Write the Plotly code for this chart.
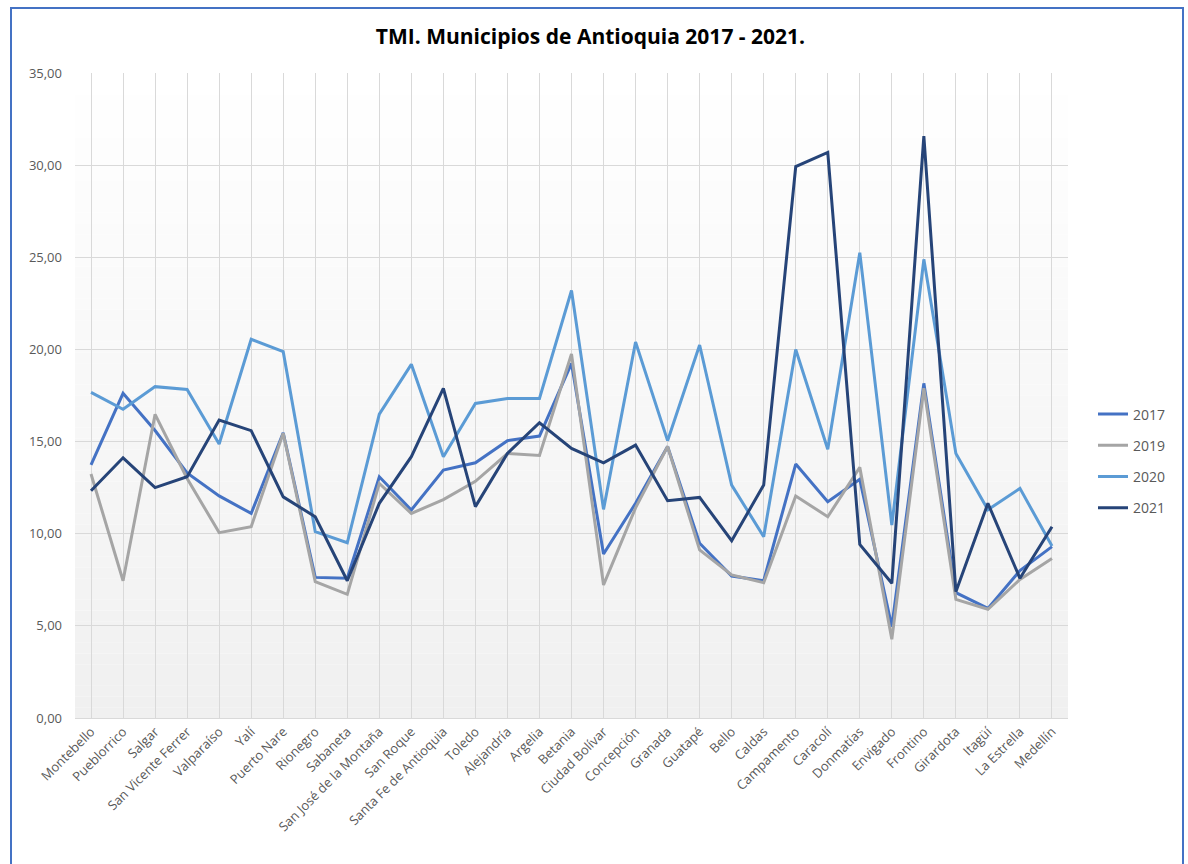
import plotly.graph_objects as go

categories = ["Montebello", "Pueblorrico", "Salgar", "San Vicente Ferrer", "Valparaíso", "Yalí",
              "Puerto Nare", "Rionegro", "Sabaneta", "San José de la Montaña", "San Roque",
              "Santa Fe de Antioquia", "Toledo", "Alejandría", "Argelia", "Betania",
              "Ciudad Bolívar", "Concepción", "Granada", "Guatapé", "Bello", "Caldas",
              "Campamento", "Caracolí", "Donmatías", "Envigado", "Frontino", "Girardota",
              "Itagüí", "La Estrella", "Medellín"]

v2017 = [13.73, 17.62, 15.6, 13.3, 12.05, 11.1, 15.48, 7.63, 7.58, 13.09, 11.29, 13.45, 13.85,
         15.05, 15.3, 19.24, 8.9, 11.65, 14.73, 9.48, 7.7, 7.45, 13.78, 11.74, 12.95, 4.96,
         18.16, 6.8, 5.95, 8.0, 9.3]
v2019 = [13.24, 7.45, 16.48, 13.0, 10.06, 10.38, 15.45, 7.4, 6.71, 12.73, 11.1, 11.85, 12.84,
         14.35, 14.25, 19.75, 7.22, 11.4, 14.73, 9.12, 7.76, 7.34, 12.05, 10.92, 13.6, 4.27,
         17.9, 6.44, 5.9, 7.52, 8.66]
v2020 = [17.67, 16.75, 17.98, 17.83, 14.87, 20.55, 19.88, 10.11, 9.51, 16.49, 19.19, 14.18,
         17.07, 17.34, 17.34, 23.2, 11.32, 20.4, 15.05, 20.24, 12.64, 9.84, 20.0, 14.58, 25.25,
         10.47, 24.89, 14.36, 11.3, 12.46, 9.33]
v2021 = [12.33, 14.12, 12.5, 13.09, 16.17, 15.59, 12.0, 10.92, 7.45, 11.65, 14.18, 17.89,
         11.47, 14.36, 16.02, 14.63, 13.85, 14.81, 11.79, 11.97, 9.62, 12.64, 29.92, 30.69,
         9.42, 7.31, 31.58, 6.85, 11.65, 7.58, 10.38]

series_names = ["2017", "2019", "2020", "2021"]
series_values = [v2017, v2019, v2020, v2021]
series_colors = ["#4472C4", "#A5A5A5", "#5B9BD5", "#264478"]

FONT = "Open Sans"

fig = go.Figure()
for name, vals, col in zip(series_names, series_values, series_colors):
    fig.add_trace(go.Scatter(
        x=categories, y=vals, name=name, mode="lines",
        line=dict(color=col, width=3), legendgroup=name,
    ))

# Pixel-based layout
W, H = 1188, 864
L, R, T, B = 75, 1068, 73, 718
pw, ph = R - L, B - T

def px_x(px):
    return (px - L) / pw

def px_y(py):
    return (B - py) / ph

shapes = []
# vertical gradient background of plot area
n = 60
c_bot, c_top = 0xF0, 0xFF
for i in range(n):
    f = (i + 0.5) / n
    c = int(round(c_bot + (c_top - c_bot) * f))
    hexc = "#%02x%02x%02x" % (c, c, c)
    shapes.append(dict(type="rect", xref="x domain", yref="y domain",
                       x0=0, x1=1, y0=i / n, y1=(i + 1) / n,
                       fillcolor=hexc, line=dict(width=0), layer="below"))
# outer blue frame
shapes.append(dict(type="rect", xref="paper", yref="paper",
                   x0=px_x(11), x1=px_x(1183), y0=px_y(8), y1=px_y(880),
                   line=dict(color="#4472C4", width=2), fillcolor="rgba(0,0,0,0)",
                   layer="above"))

fig.update_layout(
    width=W, height=H,
    margin=dict(l=L, r=W - R, t=T, b=H - B, pad=0),
    paper_bgcolor="white",
    plot_bgcolor="white",
    separators=",.",
    font=dict(family=FONT, color="#595959", size=13),
    title=dict(text="<b>TMI. Municipios de Antioquia 2017 - 2021.</b>",
               x=0.497, xref="container", xanchor="center",
               y=1 - 37 / H, yref="container", yanchor="middle",
               font=dict(family=FONT, size=21, color="#000000")),
    shapes=shapes,
    showlegend=True,
    legend=dict(x=px_x(1093), xanchor="left", y=px_y(461), yanchor="middle",
                bgcolor="rgba(0,0,0,0)", borderwidth=0, tracegroupgap=10,
                font=dict(family=FONT, size=14, color="#595959")),
    xaxis=dict(type="category", tickangle=-45, showgrid=True, gridcolor="#d9d9d9",
               gridwidth=1, showline=True, linecolor="#d9d9d9", linewidth=1,
               ticks="", tickfont=dict(family=FONT, size=13, color="#595959"),
               fixedrange=True, range=[-0.5, len(categories) - 0.5]),
    yaxis=dict(range=[0, 35], dtick=5, tickformat=".2f", showgrid=True,
               gridcolor="#d9d9d9", gridwidth=1, zeroline=False, showline=False,
               ticks="", ticklen=0, tickfont=dict(family=FONT, size=13, color="#595959"),
               fixedrange=True, ticklabelstandoff=12),
)

fig.write_html("out.html")
